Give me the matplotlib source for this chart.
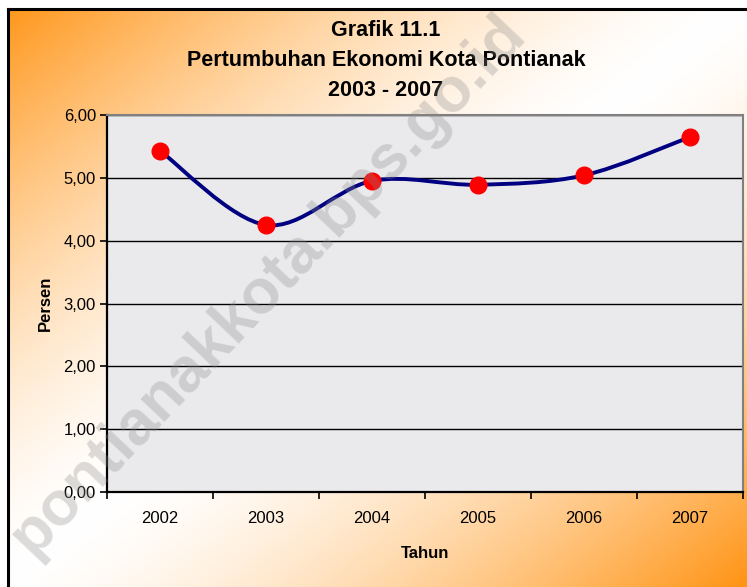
import matplotlib.pyplot as plt
import numpy as np
from matplotlib.path import Path
from matplotlib.patches import PathPatch, Rectangle

years = ['2002', '2003', '2004', '2005', '2006', '2007']
growth = [5.43, 4.25, 4.95, 4.89, 5.04, 5.65]
yticks = [0, 1, 2, 3, 4, 5, 6]

plt.rcParams['font.family'] = ['Liberation Sans', 'DejaVu Sans']

fig = plt.figure(figsize=(7.47, 5.87), dpi=100)

# orange diagonal gradient behind everything
bg = fig.add_axes([0, 0, 1, 1], zorder=-10)
gx, gy = np.meshgrid(np.linspace(0, 1, 300), np.linspace(0, 1, 240))
t = (gx + gy) / 2
k = np.clip(np.abs(2 * t - 1), 0, 1) ** 1.5
orange = np.array([1.0, 0.58, 0.08])
img = 1 - k[..., None] * (1 - orange)
bg.imshow(img, extent=[0, 1, 0, 1], aspect='auto', origin='upper')
bg.set_xlim(0, 1)
bg.set_ylim(0, 1)
bg.axis('off')
# white margin + black frame
fig.patches.append(Rectangle((0, 0), 7 / 747, 1, transform=fig.transFigure, facecolor='white', zorder=-5))
fig.patches.append(Rectangle((0, 1 - 8 / 587), 1, 8 / 587, transform=fig.transFigure, facecolor='white', zorder=-5))
fig.lines.append(plt.Line2D([8 / 747, 8 / 747], [0, 1 - 9 / 587], transform=fig.transFigure, color='black', lw=2.2))
fig.lines.append(plt.Line2D([8 / 747, 1], [1 - 9 / 587, 1 - 9 / 587], transform=fig.transFigure, color='black', lw=2.2))

ax = fig.add_axes([107 / 747, 95 / 587, 636 / 747, 377 / 587])
ax.set_facecolor('#eaeaed')

x = np.arange(len(years))
y = np.array(growth)

# smooth line through the points (Catmull-Rom as cubic Bezier)
pts = np.column_stack([x, y])
verts = [tuple(pts[0])]
codes = [Path.MOVETO]
for i in range(len(pts) - 1):
    p0 = pts[max(i - 1, 0)]
    p1 = pts[i]
    p2 = pts[i + 1]
    p3 = pts[min(i + 2, len(pts) - 1)]
    c1 = p1 + (p2 - p0) / 6
    c2 = p2 - (p3 - p1) / 6
    verts += [tuple(c1), tuple(c2), tuple(p2)]
    codes += [Path.CURVE4] * 3
ax.add_patch(PathPatch(Path(verts, codes), facecolor='none', edgecolor='#000080', lw=2.8, zorder=3))
ax.plot(x, y, linestyle='none', marker='o', ms=12, color='#ff0000', zorder=4)

ax.set_xlim(-0.5, len(years) - 0.5)
ax.set_ylim(0, 6)
ax.set_yticks(yticks)
ax.set_yticklabels([f'{v:.2f}'.replace('.', ',') for v in yticks], fontsize=12)
ax.set_xticks(x)
ax.set_xticklabels(years, fontsize=12)
ax.set_xticks(np.arange(-0.5, len(years)), minor=True)
ax.tick_params(axis='x', which='major', length=0, pad=14)
ax.tick_params(axis='x', which='minor', length=5, width=1.2, direction='out')
ax.tick_params(axis='y', length=5, width=1.2, direction='out', pad=3)
ax.yaxis.grid(True, color='black', lw=1.0)
ax.set_axisbelow(True)
for s in ['left', 'bottom']:
    ax.spines[s].set_linewidth(1.6)
for s in ['top', 'right']:
    ax.spines[s].set_color('#808080')
    ax.spines[s].set_linewidth(1.5)

ax.set_ylabel('Persen', fontsize=12, fontweight='bold', labelpad=8)
ax.set_xlabel('Tahun', fontsize=12, fontweight='bold', labelpad=14)

fig.text(386 / 747, 1 - 30 / 587, 'Grafik 11.1', ha='center', va='center', fontsize=15.5, fontweight='bold')
fig.text(386 / 747, 1 - 60 / 587, 'Pertumbuhan Ekonomi Kota Pontianak', ha='center', va='center', fontsize=15.5, fontweight='bold')
fig.text(386 / 747, 1 - 90 / 587, '2003 - 2007', ha='center', va='center', fontsize=15.5, fontweight='bold')

# watermark
fig.text(268 / 747, 1 - 285 / 587, 'pontianakkota.bps.go.id', ha='center', va='center', rotation=46.5,
         fontsize=45, fontweight='bold', color='#8a8a8a', alpha=0.3, zorder=20)

fig.savefig('out.png', dpi=100)
